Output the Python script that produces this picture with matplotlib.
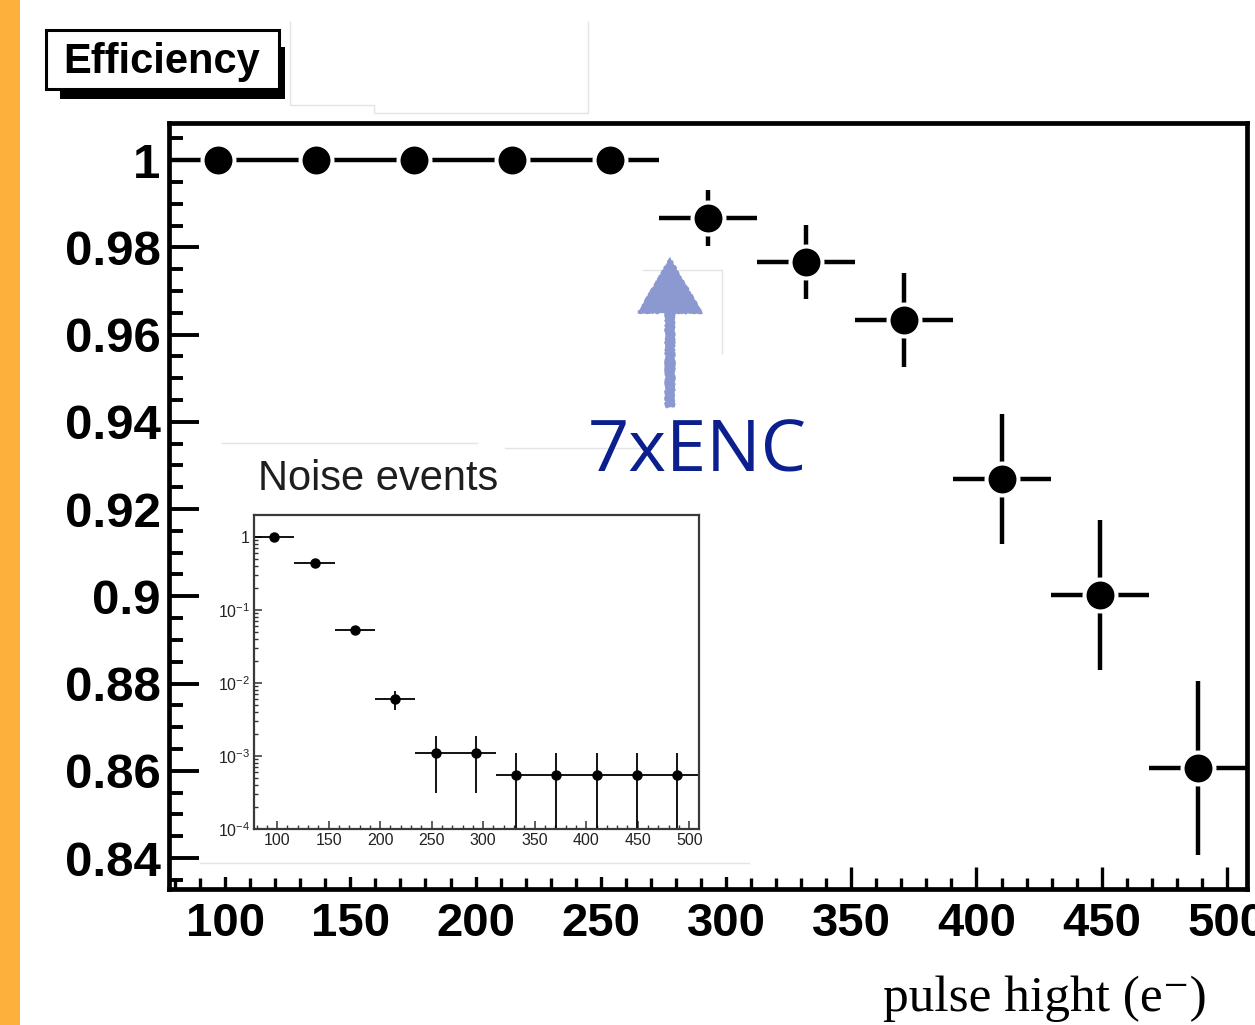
import matplotlib
matplotlib.use('Agg')
import matplotlib.pyplot as plt
import matplotlib.patches as mpatches
import matplotlib.transforms as mtransforms
from matplotlib.lines import Line2D
from matplotlib.ticker import MultipleLocator, FuncFormatter, LogLocator, NullFormatter
import numpy as np

W, H = 1255, 1025

# --- data ---
# bin centres in pulse height (e-), same binning for both histograms
bin_centres = [97.2, 136.3, 175.5, 214.6, 253.7, 292.9, 332.0, 371.1, 410.3, 449.4, 488.5]
bin_half = 19.57

efficiency = [1.0, 1.0, 1.0, 1.0, 1.0, 0.9867, 0.9766, 0.9633, 0.9269, 0.9003, 0.8606]
efficiency_err = [0, 0, 0, 0, 0, 0.0064, 0.0085, 0.0107, 0.0150, 0.0172, 0.0199]

noise_rate = [1.0, 0.44, 0.0527, 0.0060, 0.00108, 0.00108,
              0.00054, 0.00054, 0.00054, 0.00054, 0.00054]
noise_err_up = [0.023, 0.015, 0.0053, 0.0018, 0.00077, 0.00077,
                0.00054, 0.00054, 0.00054, 0.00054, 0.00054]
noise_err_lo = [0.023, 0.015, 0.0053, 0.0018, 0.00077, 0.00077,
                0.000539, 0.000539, 0.000539, 0.000539, 0.000539]

plt.rcParams['font.family'] = ['Liberation Sans', 'DejaVu Sans']
plt.rcParams['mathtext.default'] = 'regular'

fig = plt.figure(figsize=(W / 100, H / 100), dpi=100)

# top-left pixel coordinates for the slide decorations
px = mtransforms.Affine2D().scale(1, -1).translate(0, H)


def frac(left, top, right, bottom):
    return [left / W, 1 - bottom / H, (right - left) / W, (bottom - top) / H]


# orange slide strip on the left
fig.add_artist(mpatches.Rectangle((0, 0), 20, H, transform=px,
                                  facecolor='#fdb03c', edgecolor='none', zorder=0))

# --- main efficiency plot ---
ax = fig.add_axes(frac(169, 123, 1247, 889))
ax.set_zorder(0)
ax.errorbar(bin_centres, efficiency, xerr=bin_half, yerr=efficiency_err,
            fmt='none', ecolor='black', elinewidth=3.2, capsize=0)
ax.plot(bin_centres, efficiency, 'o', color='black', markersize=23,
        markeredgecolor='white', markeredgewidth=2.9, zorder=3)

ax.set_xlim(77.6, 508.0)
ax.set_ylim(0.8329, 1.0085)
ax.xaxis.set_major_locator(MultipleLocator(50))
ax.xaxis.set_minor_locator(MultipleLocator(10))
ax.yaxis.set_major_locator(MultipleLocator(0.02))
ax.yaxis.set_minor_locator(MultipleLocator(0.005))
ax.yaxis.set_major_formatter(FuncFormatter(lambda v, p: f'{v:.2f}'.rstrip('0').rstrip('.')))
ax.tick_params(axis='both', which='both', direction='in', top=False, right=False)
ax.tick_params(axis='y', which='major', length=21.5, width=2.8, pad=6, labelsize=35.5)
ax.tick_params(axis='y', which='minor', length=10, width=2.8)
ax.tick_params(axis='x', which='major', length=16, width=2.4, pad=9, labelsize=34)
ax.tick_params(axis='x', which='minor', length=8, width=2.4)
for lab in ax.get_xticklabels() + ax.get_yticklabels():
    lab.set_fontweight('bold')
for sp in ax.spines.values():
    sp.set_linewidth(3.4)

# white backing of the pasted inset picture
fig.add_artist(mpatches.Rectangle((200, 440), 550, 437, transform=px,
                                  facecolor='white', edgecolor='none', zorder=1))

# --- inset: noise events ---
axi = fig.add_axes(frac(254, 515, 699, 829))
axi.set_zorder(3)
axi.errorbar(bin_centres, noise_rate, xerr=bin_half, yerr=[noise_err_lo, noise_err_up],
             fmt='o', color='black', markersize=6.5, elinewidth=1.3, capsize=0)
axi.set_yscale('log')
axi.set_xlim(77.5, 509.5)
axi.set_ylim(1e-4, 1.98)
axi.xaxis.set_major_locator(MultipleLocator(50))
axi.xaxis.set_minor_locator(MultipleLocator(10))
axi.yaxis.set_major_locator(LogLocator(base=10, numticks=10))
axi.yaxis.set_minor_locator(LogLocator(base=10, subs=np.arange(2, 10), numticks=20))
axi.yaxis.set_minor_formatter(NullFormatter())
axi.yaxis.set_major_formatter(FuncFormatter(
    lambda v, p: '1' if abs(v - 1) < 1e-9 else r'$10^{%d}$' % round(np.log10(v))))
axi.tick_params(axis='both', which='both', direction='in', top=False, right=False,
                colors='#333333', labelcolor='#222222', labelsize=11.5)
axi.tick_params(axis='both', which='major', length=6, width=1.1, pad=3)
axi.tick_params(axis='both', which='minor', length=3, width=1.0)
for sp in axi.spines.values():
    sp.set_linewidth(1.6)
    sp.set_color('#3a3a3a')

# faint outlines left over from pasted pictures
faint = '#e4e4e4'
for xs, ys in [([290, 290, 374, 374, 588, 588], [22, 105, 105, 113, 113, 22]),
               ([643, 722, 722], [270, 270, 353]),
               ([222, 477], [443, 443]),
               ([505, 645], [448, 448]),
               ([200, 749], [863, 863])]:
    fig.add_artist(Line2D(xs, ys, transform=px, color=faint, lw=1, zorder=2))

# --- title box "Efficiency" ---
fig.add_artist(mpatches.Rectangle((60, 47), 225, 52, transform=px,
                                  facecolor='black', edgecolor='none', zorder=4))
fig.add_artist(mpatches.Rectangle((46, 30), 233, 59, transform=px,
                                  facecolor='white', edgecolor='black', lw=2.2, zorder=5))
fig.text(63, 73, 'Efficiency', transform=px, fontsize=30, fontweight='bold',
         ha='left', va='baseline', zorder=6)

# inset caption
fig.text(258, 490, 'Noise events', transform=px, fontsize=30, color='#1e1e1e',
         ha='left', va='baseline', zorder=6)

# hand-drawn looking arrow and 7xENC marker
arrow = mpatches.FancyArrow(670, 407, 0, -149, width=9, head_width=64, head_length=55,
                            length_includes_head=True, transform=px,
                            facecolor='#8c98d0', edgecolor='#8c98d0', lw=1, zorder=6)
arrow.set_sketch_params(scale=0.6, length=10, randomness=8)
fig.add_artist(arrow)
fig.text(588, 472, '7xENC', transform=px, fontsize=52, color='#0b1f8f',
         family=['Open Sans', 'DejaVu Sans'], ha='left', va='baseline', zorder=6)

# x axis title
fig.text(883, 1011, 'pulse hight (e\u207b)', transform=px, fontsize=37,
         family=['Liberation Serif', 'DejaVu Serif'], ha='left', va='baseline', zorder=6)

fig.savefig('out.png', dpi=100)
